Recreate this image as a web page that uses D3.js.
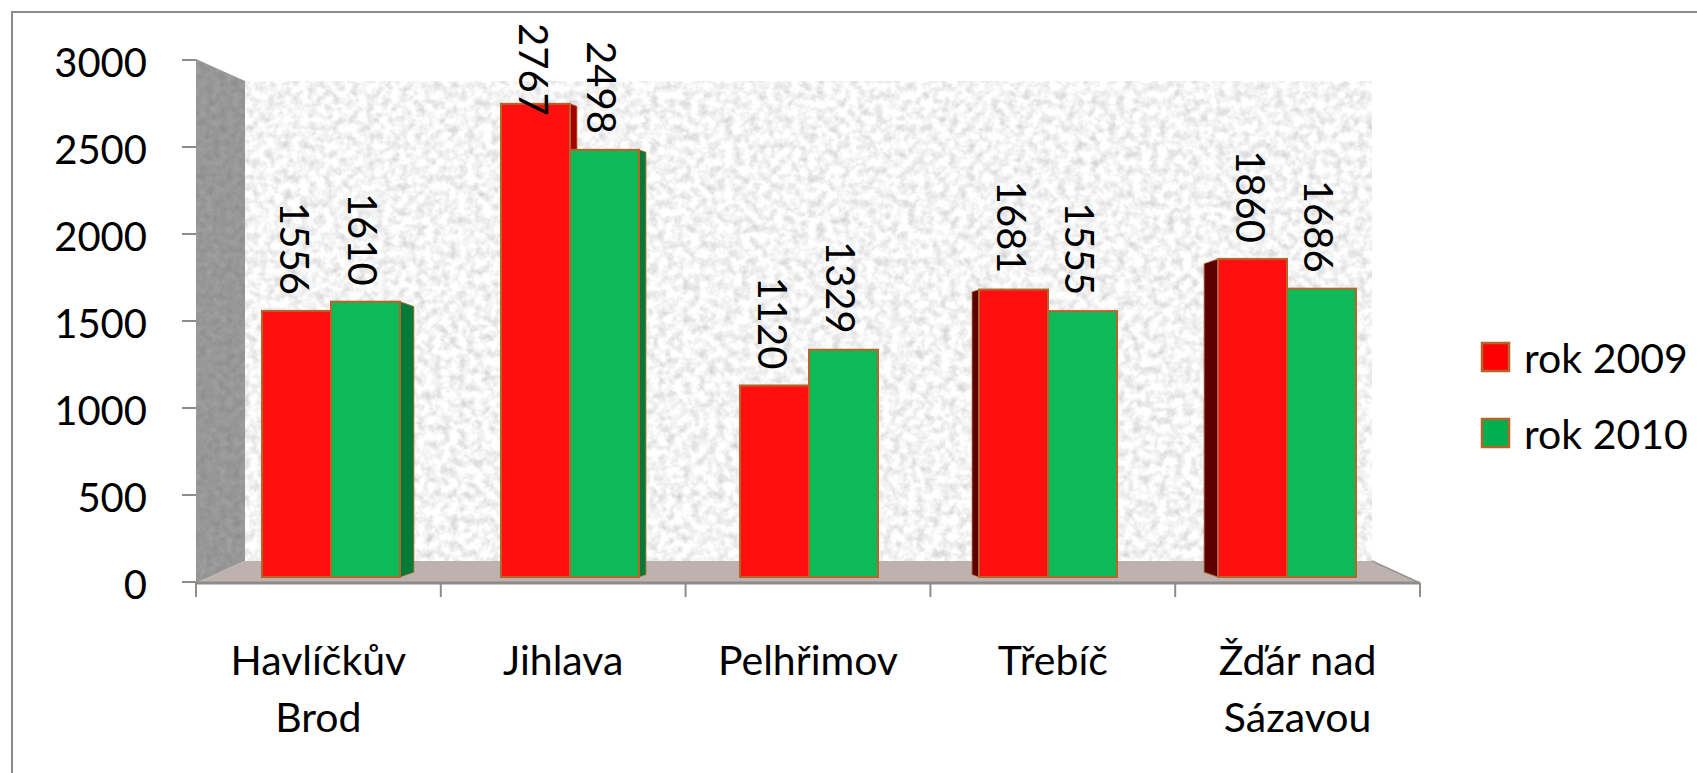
<!DOCTYPE html>
<html><head><meta charset="utf-8">
<script src="https://cdn.jsdelivr.net/npm/d3@7"></script>
<style>
html,body{margin:0;padding:0;background:#fff;overflow:hidden;}
svg{display:block;}
text{font-family:Lato,"Open Sans",sans-serif;fill:#000;}
</style></head>
<body>
<svg id="chart" width="1697" height="773"></svg>
<script>
// ---- data ----
const categories = ["Havlíčkův Brod", "Jihlava", "Pelhřimov", "Třebíč", "Žďár nad Sázavou"];
const seriesNames = ["rok 2009", "rok 2010"];
const values2009 = [1556, 2767, 1120, 1681, 1860];
const values2010 = [1610, 2498, 1329, 1555, 1686];
const yTicks = [0, 500, 1000, 1500, 2000, 2500, 3000];

// ---- styles ----
const frontColors = ["#ff0f0f", "#0dba57"];
const legendColors = ["#ff0000", "#00b050"];
const sideRight = ["#a00000", "#007a38"];
const sideLeft = ["#5c0000", "#005a28"];
const edgeColor = "#b5652a";

const svg = d3.select("#chart");

// defs: granite texture
const defs = svg.append("defs");
function granite(id, slope, intercept, freq, seed) {
  const f = defs.append("filter").attr("id", id)
    .attr("x", 0).attr("y", 0).attr("width", 1).attr("height", 1)
    .attr("filterUnits", "objectBoundingBox")
    .attr("color-interpolation-filters", "sRGB");
  f.append("feTurbulence").attr("type", "fractalNoise")
    .attr("baseFrequency", freq).attr("numOctaves", 3).attr("seed", seed).attr("result", "n");
  f.append("feColorMatrix").attr("in", "n").attr("type", "saturate").attr("values", 0).attr("result", "g");
  const ct = f.append("feComponentTransfer").attr("in", "g");
  ["feFuncR", "feFuncG", "feFuncB"].forEach(c =>
    ct.append(c).attr("type", "linear").attr("slope", slope).attr("intercept", intercept));
  ct.append("feFuncA").attr("type", "linear").attr("slope", 0).attr("intercept", 1);
  f.append("feComposite").attr("in2", "SourceGraphic").attr("operator", "in");
}
granite("backTex", 0.4, 0.76, 0.12, 4);
granite("sideTex", 0.15, 0.52, 0.15, 7);

// outer chart border
svg.append("rect").attr("x", 12).attr("y", 12).attr("width", 1720).attr("height", 800)
  .attr("fill", "none").attr("stroke", "#8c8c8c").attr("stroke-width", 2);

// ---- scales ----
const yAxisScale = d3.scaleLinear().domain([0, 3000]).range([582, 60]);
const yBar = d3.scaleLinear().domain([0, 3000]).range([577, 64]);
const xAxisScale = d3.scaleBand().domain(categories).range([196, 1420]);
const pIn = 0.4226;
const xBars = d3.scaleBand().domain(categories).range([211.5, 1406.5])
  .paddingInner(pIn).paddingOuter(pIn / 2);
const xSub = d3.scaleBand().domain(seriesNames).range([0, xBars.bandwidth()]);

// ---- walls ----
const wallL = 245, wallR = 1372, wallTop = 81, floorBack = 561, floorFront = 583;
svg.append("rect").attr("x", wallL).attr("y", wallTop)
  .attr("width", wallR - wallL).attr("height", floorBack - wallTop)
  .attr("fill", "#eee").attr("filter", "url(#backTex)");
svg.append("polygon")
  .attr("points", [[196, 59], [wallL, wallTop], [wallL, floorBack], [196, floorFront]].map(p => p.join(",")).join(" "))
  .attr("fill", "#999").attr("filter", "url(#sideTex)");
svg.append("polygon")
  .attr("points", [[196, floorFront], [wallL, floorBack], [wallR, floorBack], [1420, floorFront]].map(p => p.join(",")).join(" "))
  .attr("fill", "#bdb2ad");
svg.append("line").attr("x1", wallR).attr("y1", floorBack).attr("x2", 1420).attr("y2", floorFront)
  .attr("stroke", "#9a9290").attr("stroke-width", 1.5);

// ---- bars ----
const series = [values2009, values2010];
const midX = (xBars.range()[0] + xBars.range()[1]) / 2;
const barData = [];
categories.forEach((c, i) => {
  seriesNames.forEach((s, j) => {
    const x0 = xBars(c) + xSub(s);
    const w = xSub.bandwidth();
    const cx = xBars(c) + xBars.bandwidth() / 2;
    barData.push({ c, s, j, v: series[j][i], x0, w, depth: (midX - cx) * 0.029 });
  });
});

const gBars = svg.append("g");
// sides first
gBars.selectAll("polygon.side").data(barData).join("polygon")
  .attr("class", "side")
  .attr("points", d => {
    const top = yBar(d.v), bot = yBar(0);
    const dd = Math.abs(d.depth);
    if (dd < 1) return "";
    const xe = d.depth > 0 ? d.x0 + d.w : d.x0;
    const xo = d.depth > 0 ? xe + dd : xe - dd;
    return [[xe, top], [xo, top + dd * 0.35], [xo, bot - dd * 0.35], [xe, bot]].map(p => p.join(",")).join(" ");
  })
  .attr("fill", d => d.depth > 0 ? sideRight[d.j] : sideLeft[d.j])
  .attr("stroke", edgeColor).attr("stroke-width", 0.8);
// fronts
gBars.selectAll("rect.front").data(barData).join("rect")
  .attr("class", "front")
  .attr("x", d => d.x0).attr("y", d => yBar(d.v))
  .attr("width", d => d.w).attr("height", d => yBar(0) - yBar(d.v))
  .attr("fill", d => frontColors[d.j])
  .attr("stroke", edgeColor).attr("stroke-width", 2);

// data labels (rotated 90°)
const gLab = svg.append("g");
barData.forEach(d => {
  const cx = d.x0 + d.w / 2;
  const t = gLab.append("text").text(d.v)
    .attr("font-size", 40).attr("text-anchor", "end");
  const len = t.node().getComputedTextLength();
  let endY = yBar(d.v) - 16;
  if (endY - len < 23) endY = 23 + len;
  t.attr("transform", `translate(${cx - 17},${endY}) rotate(90)`);
});

// ---- y axis ----
const gy = svg.append("g");
yTicks.forEach(v => {
  gy.append("line").attr("x1", 182).attr("x2", 196)
    .attr("y1", yAxisScale(v)).attr("y2", yAxisScale(v))
    .attr("stroke", "#8c8c8c").attr("stroke-width", 2);
  gy.append("text").attr("x", 147).attr("y", yAxisScale(v) + 17)
    .attr("text-anchor", "end").attr("font-size", 40).text(v);
});

// ---- x axis ----
const gx = svg.append("g");
gx.append("line").attr("x1", 196).attr("x2", 1420).attr("y1", floorFront).attr("y2", floorFront)
  .attr("stroke", "#8c8c8c").attr("stroke-width", 3);
const bounds = categories.map(c => xAxisScale(c)).concat([xAxisScale.range()[1]]);
bounds.forEach(x => {
  gx.append("line").attr("x1", x).attr("x2", x).attr("y1", floorFront).attr("y2", 597)
    .attr("stroke", "#8c8c8c").attr("stroke-width", 2);
});
function wrapWords(str, maxW, size) {
  const words = str.split(" ");
  const tmp = svg.append("text").attr("font-size", size);
  const lines = []; let cur = "";
  words.forEach(w => {
    const test = cur ? cur + " " + w : w;
    tmp.text(test);
    if (tmp.node().getComputedTextLength() > maxW && cur) { lines.push(cur); cur = w; }
    else cur = test;
  });
  if (cur) lines.push(cur);
  tmp.remove();
  return lines;
}
categories.forEach(c => {
  const lines = wrapWords(c, 215, 41);
  const cx = xAxisScale(c) + xAxisScale.bandwidth() / 2;
  lines.forEach((ln, k) => {
    gx.append("text").attr("x", cx).attr("y", 675 + k * 57)
      .attr("text-anchor", "middle").attr("font-size", 41).text(ln);
  });
});

// ---- legend ----
const gLeg = svg.append("g");
seriesNames.forEach((s, j) => {
  const top = 343 + j * 76;
  gLeg.append("rect").attr("x", 1482).attr("y", top).attr("width", 27).attr("height", 28)
    .attr("fill", legendColors[j]).attr("stroke", edgeColor).attr("stroke-width", 2.5);
  gLeg.append("text").attr("x", 1524).attr("y", top + 30).attr("font-size", 41).text(s);
});
</script>
</body></html>
